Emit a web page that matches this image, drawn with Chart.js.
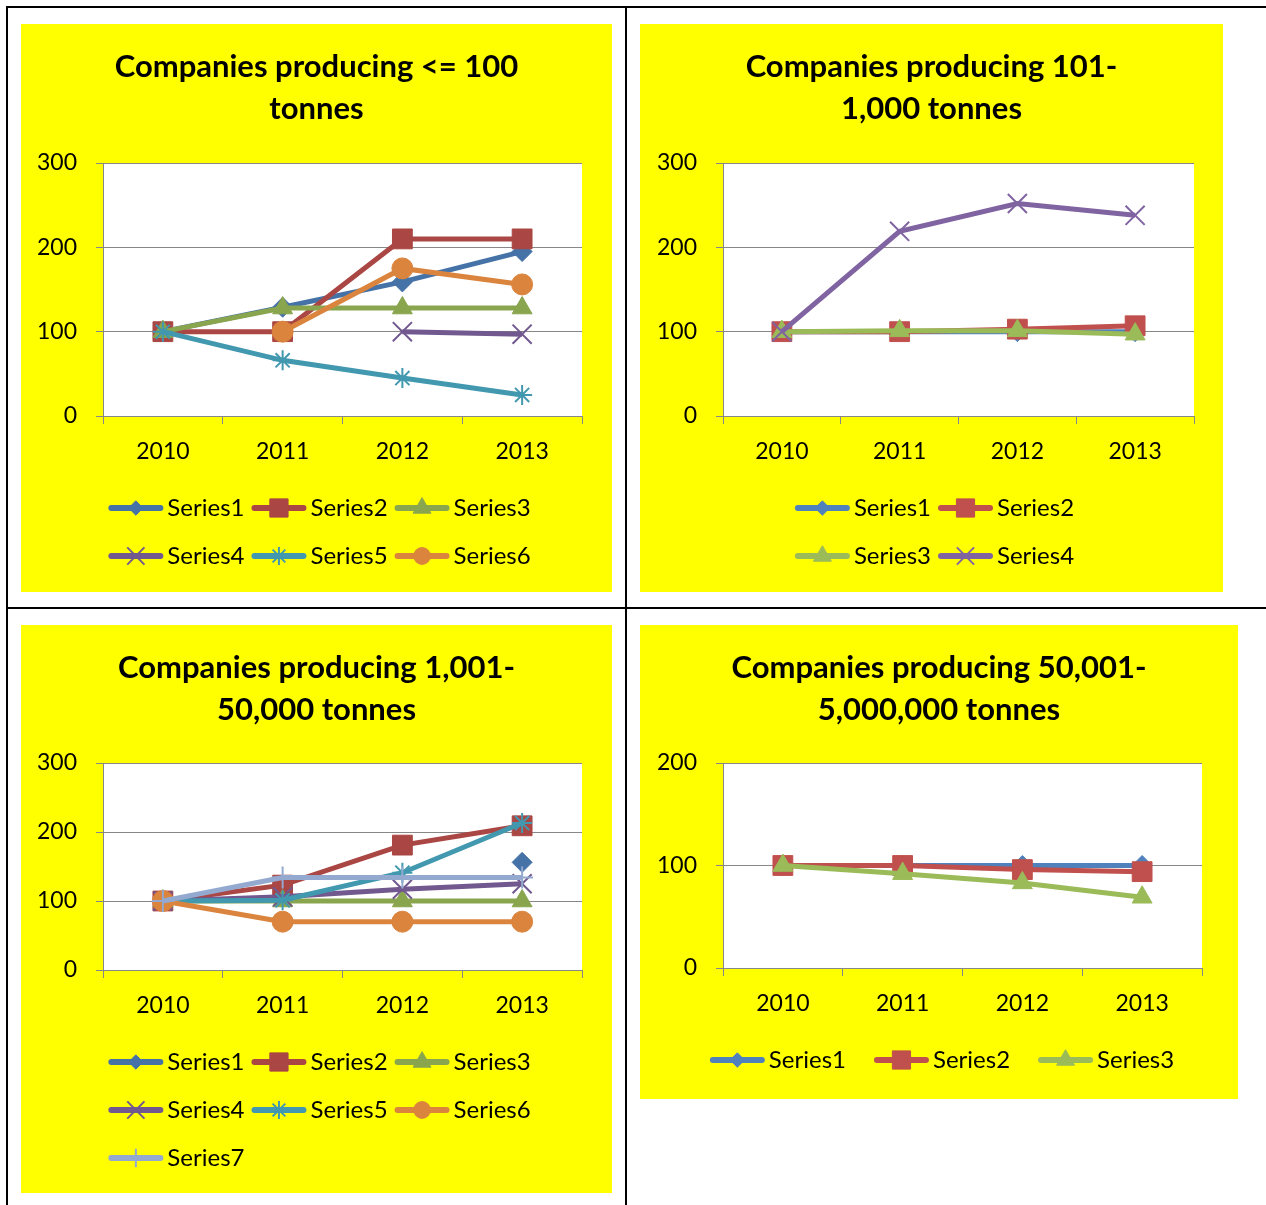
<!DOCTYPE html>
<html>
<head>
<meta charset="utf-8">
<title>Companies producing, index 2010 = 100</title>
<script src="https://cdn.jsdelivr.net/npm/chart.js"></script>
<style>
  html, body { margin: 0; padding: 0; background: #ffffff; }
  body { position: relative; width: 1266px; height: 1205px; overflow: hidden; }
  .rule { position: absolute; background: #000000; }
  canvas.panel { position: absolute; background: #ffff00; }
</style>
</head>
<body>
<div class="rule" style="left:6px;top:6px;width:1260px;height:2px"></div>
<div class="rule" style="left:6px;top:6px;width:2px;height:1199px"></div>
<div class="rule" style="left:625px;top:6px;width:2px;height:1199px"></div>
<div class="rule" style="left:6px;top:607px;width:1260px;height:2px"></div>

<canvas id="small" class="panel" width="591" height="568" style="left:21px;top:24px"></canvas>
<canvas id="medium" class="panel" width="583" height="568" style="left:640px;top:24px"></canvas>
<canvas id="large" class="panel" width="591" height="568" style="left:21px;top:625px"></canvas>
<canvas id="huge" class="panel" width="598" height="474" style="left:640px;top:625px"></canvas>

<script>
// Years on the category axis
const years = ['2010', '2011', '2012', '2013'];

// Companies producing <= 100 tonnes (index, 2010 = 100)
const small1 = [100, 129, 159, 195];
const small2 = [100, 100, 210, 210];
const small3 = [100, 128, 128, 128];
const small4 = [null, null, 100, 97];
const small5 = [100, 66, 45, 25];
const small6 = [null, 100, 175, 156];

// Companies producing 101-1,000 tonnes
const medium1 = [100, 100, 100, 100];
const medium2 = [100, 100, 103, 107];
const medium3 = [100, 101, 101, 97];
const medium4 = [100, 219, 252, 238];

// Companies producing 1,001-50,000 tonnes
const large1 = [100, null, null, 156];
const large2 = [100, 123, 181, 209];
const large3 = [100, 100, 100, 100];
const large4 = [100, 106, 117, 125];
const large5 = [100, 101, 141, 213];
const large6 = [100, 70, 70, 70];
const large7 = [100, 134, 134, 134];

// Companies producing 50,001-5,000,000 tonnes
const huge1 = [100, 100, 100, 100];
const huge2 = [100, 100, 96, 94];
const huge3 = [100, 92, 83, 69];

// Value axis ticks
const yTicks300 = [0, 100, 200, 300];
const yTicks200 = [0, 100, 200];

// Series styling
const darkColors = ['#4572A7', '#AA4643', '#89A54E', '#71588F', '#4198AF', '#DB843D', '#93A9CF'];
const lightColors = ['#4F81BD', '#C0504D', '#9BBB59', '#8064A2'];
const markerStyles = ['rectRot', 'rect', 'triangle', 'crossRot', 'star', 'circle', 'cross'];
const markerRadii = [10, 14, 11.5, 13.5, 10, 10.5, 11];
const legendScale = { rectRot: 0.72, rect: 0.92, triangle: 0.9, crossRot: 0.9, star: 0.9, circle: 0.8, cross: 0.85 };
const openMarkers = ['crossRot', 'star', 'cross'];

const FONT = 'Lato, "Open Sans", sans-serif';
const GRID = '#878787';

// White plot area inside the yellow chart
const plotBackground = {
  id: 'plotBackground',
  beforeDraw(chart) {
    const { ctx, chartArea: a } = chart;
    ctx.save();
    ctx.fillStyle = '#ffffff';
    ctx.fillRect(a.left, a.top, a.right - a.left, a.bottom - a.top);
    ctx.restore();
  }
};

// Legend drawn as line + marker + label, laid out in a fixed number of columns
const lineLegend = {
  id: 'lineLegend',
  afterDraw(chart, args, opts) {
    const { ctx, chartArea: area } = chart;
    const sets = chart.data.datasets;
    ctx.save();
    ctx.font = opts.fontSize + 'px ' + FONT;
    const textW = Math.max(...sets.map(d => ctx.measureText(d.label).width));
    const pitch = opts.lineLength + opts.textGap + textW + opts.itemGap;
    const cols = Math.min(opts.columns, sets.length);
    const span = cols * pitch - opts.itemGap;
    const x0 = chart.width / 2 - span / 2 + opts.shift;
    const lw = opts.lineWidth;
    sets.forEach((ds, i) => {
      const x = x0 + (i % cols) * pitch;
      const y = area.bottom + opts.offset + Math.floor(i / cols) * opts.rowHeight;
      ctx.strokeStyle = ds.borderColor;
      ctx.lineWidth = lw;
      ctx.lineCap = 'round';
      ctx.beginPath();
      ctx.moveTo(x + lw / 2, y);
      ctx.lineTo(x + opts.lineLength - lw / 2, y);
      ctx.stroke();
      ctx.lineCap = 'butt';
      ctx.fillStyle = ds.pointBackgroundColor;
      ctx.strokeStyle = ds.pointBorderColor;
      ctx.lineWidth = ds.pointBorderWidth;
      Chart.helpers.drawPoint(ctx, {
        pointStyle: ds.pointStyle,
        rotation: 0,
        radius: ds.pointRadius * (legendScale[ds.pointStyle] || 0.9),
        borderWidth: ds.pointBorderWidth
      }, x + opts.lineLength / 2, y);
      ctx.fillStyle = '#000000';
      ctx.textAlign = 'left';
      ctx.textBaseline = 'middle';
      ctx.fillText(ds.label, x + opts.lineLength + opts.textGap, y);
    });
    ctx.restore();
  }
};

function buildSeries(seriesList, colors) {
  return seriesList.map((values, i) => {
    const open = openMarkers.includes(markerStyles[i]);
    return {
      label: 'Series' + (i + 1),
      data: values,
      yAxisID: 'y',
      borderColor: colors[i],
      backgroundColor: colors[i],
      borderWidth: 5,
      tension: 0,
      spanGaps: false,
      pointStyle: markerStyles[i],
      pointRadius: markerRadii[i],
      pointBackgroundColor: open ? 'rgba(0,0,0,0)' : colors[i],
      pointBorderColor: colors[i],
      pointBorderWidth: open ? 2 : 1,
      order: -i
    };
  });
}

function makeChart(id, titleLines, seriesList, colors, yTicks, layout) {
  const tickFont = { family: FONT, size: 23 };
  new Chart(document.getElementById(id), {
    type: 'line',
    data: { labels: years, datasets: buildSeries(seriesList, colors) },
    options: {
      responsive: false,
      animation: false,
      events: [],
      layout: { padding: { left: 0, right: 0, top: 0, bottom: layout.bottom } },
      plugins: {
        legend: { display: false },
        tooltip: { enabled: false },
        title: {
          display: true,
          text: titleLines,
          color: '#000000',
          font: { family: FONT, size: 31, weight: 'bold', lineHeight: 42 / 31 },
          padding: { top: 22, bottom: layout.titleBottom }
        },
        lineLegend: {
          columns: layout.columns,
          fontSize: 24,
          lineLength: 55,
          lineWidth: 6,
          textGap: 4,
          itemGap: layout.itemGap,
          rowHeight: 48,
          offset: 92,
          shift: 3
        }
      },
      scales: {
        x: {
          type: 'category',
          offset: true,
          grid: { offset: true, drawOnChartArea: false, color: GRID, tickLength: 8 },
          border: { color: GRID, width: 1 },
          ticks: { color: '#000000', font: tickFont, padding: 14, maxRotation: 0 },
          afterFit(scale) { scale.height = 60; }
        },
        y: {
          position: 'left',
          min: yTicks[0],
          max: yTicks[yTicks.length - 1],
          afterBuildTicks(scale) { scale.ticks = yTicks.map(v => ({ value: v })); },
          grid: { color: GRID, tickLength: 7 },
          border: { color: GRID, width: 1 },
          ticks: { color: '#000000', font: tickFont, padding: 19 },
          afterFit(scale) { scale.width = layout.axisWidth; }
        },
        // empty right-hand margin beside the plot area
        margin: {
          type: 'linear',
          position: 'right',
          min: 0,
          max: 1,
          grid: { display: false, drawTicks: false },
          border: { display: false },
          ticks: { display: false },
          afterFit(scale) { scale.width = layout.right; }
        }
      }
    },
    plugins: [plotBackground, lineLegend]
  });
}

makeChart('small', ['Companies producing <= 100', 'tonnes'],
  [small1, small2, small3, small4, small5, small6], darkColors, yTicks300,
  { right: 30, bottom: 116, titleBottom: 33, axisWidth: 82, columns: 3, itemGap: 7 });

makeChart('medium', ['Companies producing 101-', '1,000 tonnes'],
  [medium1, medium2, medium3, medium4], lightColors, yTicks300,
  { right: 29, bottom: 116, titleBottom: 33, axisWidth: 83, columns: 2, itemGap: 7 });

makeChart('large', ['Companies producing 1,001-', '50,000 tonnes'],
  [large1, large2, large3, large4, large5, large6, large7], darkColors, yTicks300,
  { right: 30, bottom: 163, titleBottom: 32, axisWidth: 82, columns: 3, itemGap: 7 });

makeChart('huge', ['Companies producing 50,001-', '5,000,000 tonnes'],
  [huge1, huge2, huge3], lightColors, yTicks200,
  { right: 36, bottom: 71, titleBottom: 32, axisWidth: 83, columns: 3, itemGap: 28 });
</script>
</body>
</html>
